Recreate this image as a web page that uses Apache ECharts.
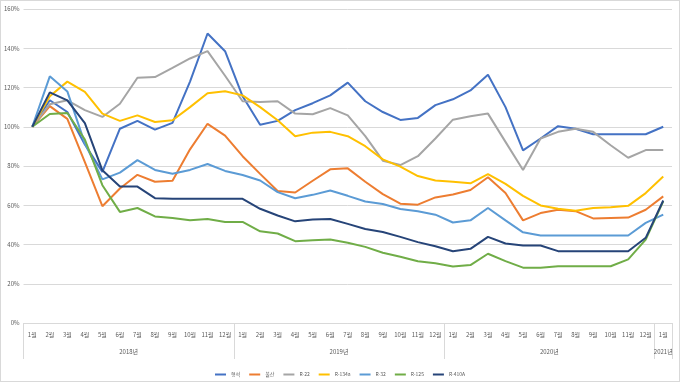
<!DOCTYPE html>
<html><head><meta charset="utf-8">
<script src="https://cdn.jsdelivr.net/npm/echarts@6/dist/echarts.min.js"></script>
<style>html,body{margin:0;padding:0;background:#fff}#c{width:680px;height:382px;box-sizing:border-box;border:1px solid #d9d9d9}</style>
</head><body><div id="c"></div>
<script>
const months = ['1월','2월','3월','4월','5월','6월','7월','8월','9월','10월','11월','12월',
'1월','2월','3월','4월','5월','6월','7월','8월','9월','10월','11월','12월',
'1월','2월','3월','4월','5월','6월','7월','8월','9월','10월','11월','12월','1월'];
const yearLabels = ['2018년','2019년','2020년','2021년'];
const yearCounts = [12,12,12,1];
const yTicks = [0,20,40,60,80,100,120,140,160];

const s형석 = [100,113.5,107.5,91,77,99,103,98.5,102,123,147.5,138.5, 115.5,101,103,108.5,112,116,122.5,113,107.5,103.5,104.5,111, 114,118.5,126.5,110,88,94,100.3,99,96.2,96.2,96.2,96.2, 100];
const s불산 = [100,110.5,104,82,59.5,68.5,75.5,72,72.5,88.5,101.5,95.5, 85,76,67.3,66.5,72.5,78.3,78.8,72,65.7,60.8,60.3,64, 65.5,67.8,74.3,66.2,52.3,56,57.7,57,53.3,53.5,53.7,57.7, 64.5];
const sR22 = [100,111.5,113.5,108.5,105,111.7,125,125.3,130,134.8,138.5,126, 113,112.6,113,106.7,106.4,109.5,105.8,95.2,82.7,80.5,85,94, 103.6,105.3,106.7,92.3,78,94,97.4,99,97.4,90.6,84.2,88.1, 88.1];
const sR134a = [100,115.5,123,117.8,106.7,103,105.8,102.4,103.3,110,117.1,118.1, 116,110,103.3,95.2,97,97.4,95.2,90.1,83.4,79.7,74.9,72.6, 72,71.2,75.9,70.9,64.8,59.9,58.2,57.2,58.6,59,59.7,66.2, 74.6];
const sR32 = [100,125.7,118,91.5,73.2,76.6,83,78,76,78,81,77.5, 75.4,72.6,66.7,63.6,65.3,67.5,64.8,61.9,60.6,58.1,56.9,55.2, 51.2,52.3,58.6,52.3,46.2,44.6,44.6,44.6,44.6,44.6,44.6,51, 55.2];
const sR125 = [100,106.5,107,93.5,70.2,56.6,58.6,54.3,53.5,52.3,53,51.5, 51.5,46.7,45.6,41.7,42.2,42.5,40.9,38.8,35.8,33.8,31.5,30.4, 28.8,29.5,35.3,31.5,28.2,28.2,28.9,28.9,28.9,28.9,32.4,42.5, 62];
const sR410A = [100,117.5,113.4,101.8,77.8,69.5,69.5,63.6,63.3,63.3,63.3,63.3, 63.3,58.2,54.8,51.8,52.7,53,50.5,47.9,46.4,43.9,41.2,39.1, 36.6,37.8,43.9,40.5,39.5,39.5,36.6,36.6,36.6,36.6,36.6,43.4, 62.4];

const seriesNames = ['형석','불산','R-22','R-134a','R-32','R-125','R-410A'];
const seriesData = [s형석,s불산,sR22,sR134a,sR32,sR125,sR410A];
const colors = ['#4472C4','#ED7D31','#A5A5A5','#FFC000','#5B9BD5','#70AD47','#264478'];

const bounds = [0]; yearCounts.forEach(c => bounds.push(bounds[bounds.length-1]+c));
const centers = yearCounts.map((c,i) => bounds[i] + c/2);

const font = '"Noto Sans CJK KR","Noto Sans",sans-serif';
const chart = echarts.init(document.getElementById('c'));
chart.setOption({
  animation:false,
  color: colors,
  textStyle:{fontFamily:font},
  grid:{left:21,right:7,top:8,bottom:58},
  legend:{
    data: seriesNames, top:366, left:'center',
    icon:'rect', itemWidth:11, itemHeight:2, itemGap:9,
    textStyle:{fontSize:5,color:'#595959',fontFamily:font}
  },
  xAxis:[{
    type:'category', data: months, boundaryGap:true,
    axisLine:{show:true,lineStyle:{color:'#d9d9d9'}},
    axisTick:{show:false},
    axisLabel:{interval:0,fontSize:6,color:'#595959',margin:9,fontFamily:font}
  },{
    type:'value', min:0, max:bounds[bounds.length-1], position:'bottom',
    axisLine:{show:false}, splitLine:{show:false},
    axisTick:{show:true, customValues: bounds, length:36, lineStyle:{color:'#d9d9d9'}},
    axisLabel:{customValues: centers, margin:26, fontSize:6, color:'#595959', fontFamily:font,
      formatter: v => { const i = centers.indexOf(v); return i>=0 ? yearLabels[i] : ''; }}
  }],
  yAxis:{
    type:'value', min:0, max:160, interval:20,
    axisLine:{show:false}, axisTick:{show:false},
    axisLabel:{formatter:'{value}%', fontSize:6, color:'#595959', margin:4, fontFamily:font},
    splitLine:{lineStyle:{color:'#d9d9d9'}}
  },
  series: seriesNames.map((n,i)=>({
    name:n, type:'line', data: seriesData[i], xAxisIndex:0,
    symbol:'none', lineStyle:{width:2,color:colors[i]}, itemStyle:{color:colors[i]},
    z: 2+i
  }))
});
</script></body></html>
